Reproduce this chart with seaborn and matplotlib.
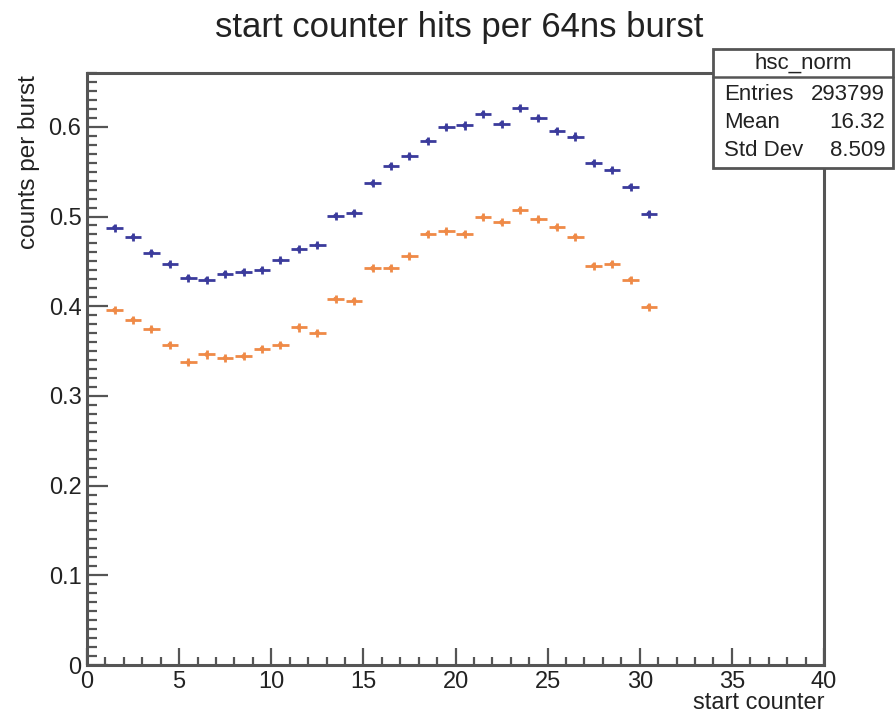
import numpy as np
import pandas as pd
import matplotlib
matplotlib.use("Agg")
import matplotlib.pyplot as plt
import seaborn as sns
from matplotlib.patches import Rectangle
from matplotlib.lines import Line2D
from matplotlib.ticker import MultipleLocator

bins = list(range(1, 31))
blue_vals = [0.4876, 0.477, 0.4598, 0.4468, 0.4319, 0.4297, 0.4364, 0.4383, 0.4405, 0.4512,
             0.4635, 0.468, 0.5006, 0.5043, 0.5369, 0.5566, 0.5674, 0.5844, 0.5993, 0.6015,
             0.6145, 0.6034, 0.6208, 0.6097, 0.5956, 0.5892, 0.5596, 0.5518, 0.5332, 0.5032]
orange_vals = [0.3956, 0.385, 0.3744, 0.357, 0.3373, 0.3462, 0.3421, 0.344, 0.3525, 0.357,
               0.3763, 0.3704, 0.4080, 0.4063, 0.4423, 0.4427, 0.4557, 0.4806, 0.4835, 0.4806,
               0.4991, 0.4935, 0.5073, 0.4969, 0.4880, 0.4776, 0.4453, 0.4472, 0.4297, 0.3996]
title = "start counter hits per 64ns burst"
xlabel = "start counter"
ylabel = "counts per burst"
stats_name = "hsc_norm"
stats_rows = [("Entries", "293799"), ("Mean", "16.32"), ("Std Dev", "8.509")]

sns.set_theme(style="white")
plt.rcParams['font.family'] = ['Liberation Sans', 'DejaVu Sans']

BLUE = "#3b3b9c"
ORANGE = "#ef8a47"
FRAME = "#555555"
TXT = "#222222"

fig = plt.figure(figsize=(8.96, 7.14), dpi=100)
ax = fig.add_axes([87/896, 1-665/714, (824-87)/896, (665-73)/714])

centers = np.array(bins) + 0.5
df = pd.DataFrame({
    "x": np.concatenate([centers, centers]),
    "y": blue_vals + orange_vals,
    "series": ["blue"] * len(bins) + ["orange"] * len(bins),
})

for name, col in [("blue", BLUE), ("orange", ORANGE)]:
    sub = df[df.series == name]
    ax.errorbar(sub.x, sub.y, xerr=0.45, yerr=0.0045, fmt='none', ecolor=col,
                elinewidth=2.0, capsize=0)
sns.scatterplot(data=df, x="x", y="y", hue="series", palette={"blue": BLUE, "orange": ORANGE},
                marker="o", s=12, edgecolor="none", legend=False, ax=ax)

ax.set_xlim(0, 40)
ax.set_ylim(0, 0.66)
ax.xaxis.set_minor_locator(MultipleLocator(1))
ax.yaxis.set_minor_locator(MultipleLocator(0.01))
ax.set_xticks([0, 5, 10, 15, 20, 25, 30, 35, 40])
ax.set_xticklabels(["0", "5", "10", "15", "20", "25", "30", "35", "40"])
ax.set_yticks([0, 0.1, 0.2, 0.3, 0.4, 0.5, 0.6])
ax.set_yticklabels(["0", "0.1", "0.2", "0.3", "0.4", "0.5", "0.6"])
ax.tick_params(axis='both', which='both', bottom=True, left=True, top=False, right=False,
               direction='in', width=1.6, color=FRAME)
ax.tick_params(axis='both', which='major', labelsize=17, labelcolor=TXT, pad=4)
ax.tick_params(axis='y', which='major', length=15)
ax.tick_params(axis='y', which='minor', length=7)
ax.tick_params(axis='x', which='major', length=12)
ax.tick_params(axis='x', which='minor', length=6)
for s in ax.spines.values():
    s.set_color(FRAME)
    s.set_linewidth(2.2)
ax.set_xlabel("")
ax.set_ylabel("")

fig.text(459/896, 1-27/714, title, ha='center', va='center', fontsize=25, color=TXT)
fig.text(824/896, 1-709/714, xlabel, ha='right', va='baseline', fontsize=17, color=TXT)
fig.text(29/896, 1-75/714, ylabel, ha='center', va='top', rotation=90, fontsize=17.5, color=TXT)

# stats box
bx0, bx1, by0, by1, hy = 713, 893, 49, 168, 77
fig.patches.append(Rectangle((bx0/896, 1-by1/714), (bx1-bx0)/896, (by1-by0)/714,
                             transform=fig.transFigure, facecolor="white", edgecolor=FRAME,
                             linewidth=2.0, zorder=10))
fig.lines.append(Line2D([bx0/896, bx1/896], [1-hy/714, 1-hy/714], transform=fig.transFigure,
                        color=FRAME, linewidth=1.8, zorder=11))
fig.text((bx0+bx1)/2/896, 1-63/714, stats_name, ha='center', va='center', fontsize=16,
         color=TXT, zorder=12)
for i, (k, v) in enumerate(stats_rows):
    yy = 1-(94 + i*28.5)/714
    fig.text((bx0+11)/896, yy, k, ha='left', va='center', fontsize=16, color=TXT, zorder=12)
    fig.text((bx1-8)/896, yy, v, ha='right', va='center', fontsize=16, color=TXT, zorder=12)

fig.savefig("out.png", dpi=100, facecolor="white")
